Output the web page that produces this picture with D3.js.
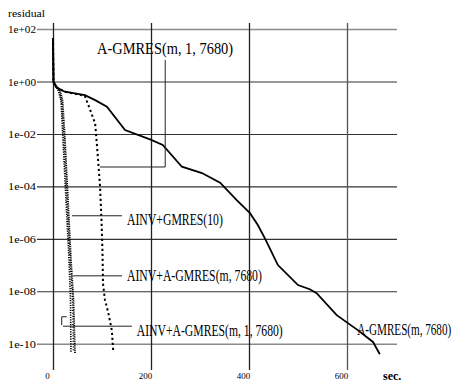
<!DOCTYPE html>
<html>
<head>
<meta charset="utf-8">
<script src="https://cdn.jsdelivr.net/npm/d3@7"></script>
<style>
  body { margin: 0; background: #fff; }
  text { font-family: "Liberation Serif", "Times New Roman", serif; fill: #000; }
</style>
</head>
<body>
<div id="vis"></div>
<script>
// x ticks (sec) and y ticks (log10 residual)
const xTicks = [0, 200, 400, 600];
const xTickLabels = ['0', '200', '400', '600'];
const yTickExps = [2, 0, -2, -4, -6, -8, -10];
const yTickLabels = ['1e+02', '1e+00', '1e-02', '1e-04', '1e-06', '1e-08', '1e-10'];

// curves: [sec, log10(residual)]
const aGmres = [[0, 1.66], [1, 0.0], [6, -0.21], [24, -0.39], [65, -0.52], [86, -0.71], [110, -0.96],
  [147, -1.85], [198, -2.21], [224, -2.42], [263, -3.25], [304, -3.49], [341, -3.86], [375, -4.52],
  [402, -5.02], [418, -5.47], [433, -6.0], [459, -7.0], [500, -7.76], [524, -7.92], [538, -8.07],
  [579, -8.91], [622, -9.48], [653, -9.93], [667, -10.4]];
const aGmres1 = [[0, 1.66], [1, 0.0], [6, -0.21], [24, -0.39], [65, -0.55], [76, -1.09], [86, -1.6],
  [90, -2.5], [96, -4.0], [99, -5.3], [101, -6.5], [102, -7.7], [106, -8.33], [113, -8.83],
  [120, -9.48], [123, -10.3]];
const ainvGmres10 = [[0, 1.66], [1, -0.02], [10.2, -0.33], [16.3, -0.71], [20.4, -2.23], [26.5, -4.52],
  [32.7, -6.81], [35.7, -8.33], [36.7, -10.35]];
const ainvAGmres = [[0, 1.66], [1, -0.02], [14.3, -0.36], [19.4, -0.71], [24.5, -2.23], [30.6, -4.52],
  [36.7, -6.81], [41.8, -8.33], [44.9, -10.35]];
const ainvAGmres1 = [[0, 1.66], [1, -0.02], [12.2, -0.33], [17.3, -0.71], [22.4, -2.23], [28.6, -4.52],
  [34.7, -6.81], [39.8, -8.33], [41.8, -10.3]];

// annotation leaders [sec, log10] and label anchors
const leaders = [
  [[96, -3.26], [229, -3.26], [229, 0.82]],
  [[38.8, -5.12], [140.8, -5.12]],
  [[40.8, -7.41], [140.8, -7.41]],
  [[20.4, -9.33], [161, -9.33]],
  [[28, -8.97], [17.8, -8.97], [17.8, -9.29]]
];
const labels = [
  { text: 'A-GMRES(m, 1, 7680)', x: 90, y: 1.05, len: 136 },
  { text: 'AINV+GMRES(10)', x: 151, y: -5.47, len: 96 },
  { text: 'AINV+A-GMRES(m, 7680)', x: 151, y: -7.61, len: 135 },
  { text: 'AINV+A-GMRES(m, 1, 7680)', x: 171, y: -9.71, len: 146 },
  { text: 'A-GMRES(m, 7680)', x: 621, y: -9.67, len: 94 }
];

const W = 456, H = 383;
const svg = d3.select('#vis').append('svg').attr('width', W).attr('height', H);

const x = d3.scaleLinear().domain([0, 700]).range([53, 396]);
const y = d3.scaleLinear().domain([-11, 2.23]).range([370, 23]);

// horizontal grid + y labels
const yAxis = d3.axisLeft(y).tickValues(yTickExps).tickSize(-360).tickPadding(1)
  .tickFormat((d, i) => yTickLabels[i]);
const gy = svg.append('g').attr('transform', 'translate(37,0)').call(yAxis);
gy.select('.domain').remove();
gy.selectAll('line').attr('stroke', (d) => (d === 2 || d === -10) ? '#8a8a8a' : '#333')
  .attr('stroke-width', (d) => (d === 2 || d === -10) ? 1.6 : 1.1);
gy.selectAll('text').attr('font-size', 11).attr('font-family', 'Liberation Serif')
  .attr('textLength', 28).attr('lengthAdjust', 'spacingAndGlyphs').attr('fill', '#000');

// vertical grid + x labels
const xAxis = d3.axisBottom(x).tickValues(xTicks).tickSize(-347).tickPadding(3)
  .tickFormat((d, i) => xTickLabels[i]);
const gx = svg.append('g').attr('transform', 'translate(0,370)').call(xAxis);
gx.select('.domain').remove();
gx.selectAll('line').attr('stroke', (d) => d === 600 ? '#555' : '#222').attr('stroke-width', 1.3);
gx.selectAll('text').attr('font-size', 9).attr('font-family', 'Liberation Serif')
  .attr('x', -6).attr('fill', '#000');

svg.append('text').attr('x', 8).attr('y', 17).attr('font-size', 11)
  .attr('textLength', 37).attr('lengthAdjust', 'spacingAndGlyphs').text('residual');
svg.append('text').attr('x', 383).attr('y', 380).attr('font-size', 12)
  .attr('font-weight', 'bold').text('sec.');

const line = d3.line().x(d => x(d[0])).y(d => y(d[1]));

const curves = [
  { data: ainvGmres10, dash: '1.2,1.2', w: 1.6 },
  { data: ainvAGmres1, dash: '1,1.8', w: 1.5 },
  { data: ainvAGmres, dash: '1,0.8', w: 1.8 },
  { data: aGmres1, dash: '2.2,2.8', w: 2 },
  { data: aGmres, dash: null, w: 1.8 }
];
svg.append('g').selectAll('path').data(curves).join('path')
  .attr('d', d => line(d.data))
  .attr('fill', 'none').attr('stroke', '#000')
  .attr('stroke-width', d => d.w)
  .attr('stroke-dasharray', d => d.dash);

svg.append('g').selectAll('path').data(leaders).join('path')
  .attr('d', d => line(d))
  .attr('fill', 'none').attr('stroke', '#222').attr('stroke-width', 1);

// condensed labels: scale horizontally so the box matches the measured width
svg.append('g').selectAll('text').data(labels).join('text')
  .attr('font-size', 16)
  .text(d => d.text)
  .attr('transform', function(d) {
    const natural = this.getComputedTextLength() || d.len;
    return `translate(${x(d.x)},${y(d.y)}) scale(${d.len / natural},1)`;
  });
</script>
</body>
</html>
